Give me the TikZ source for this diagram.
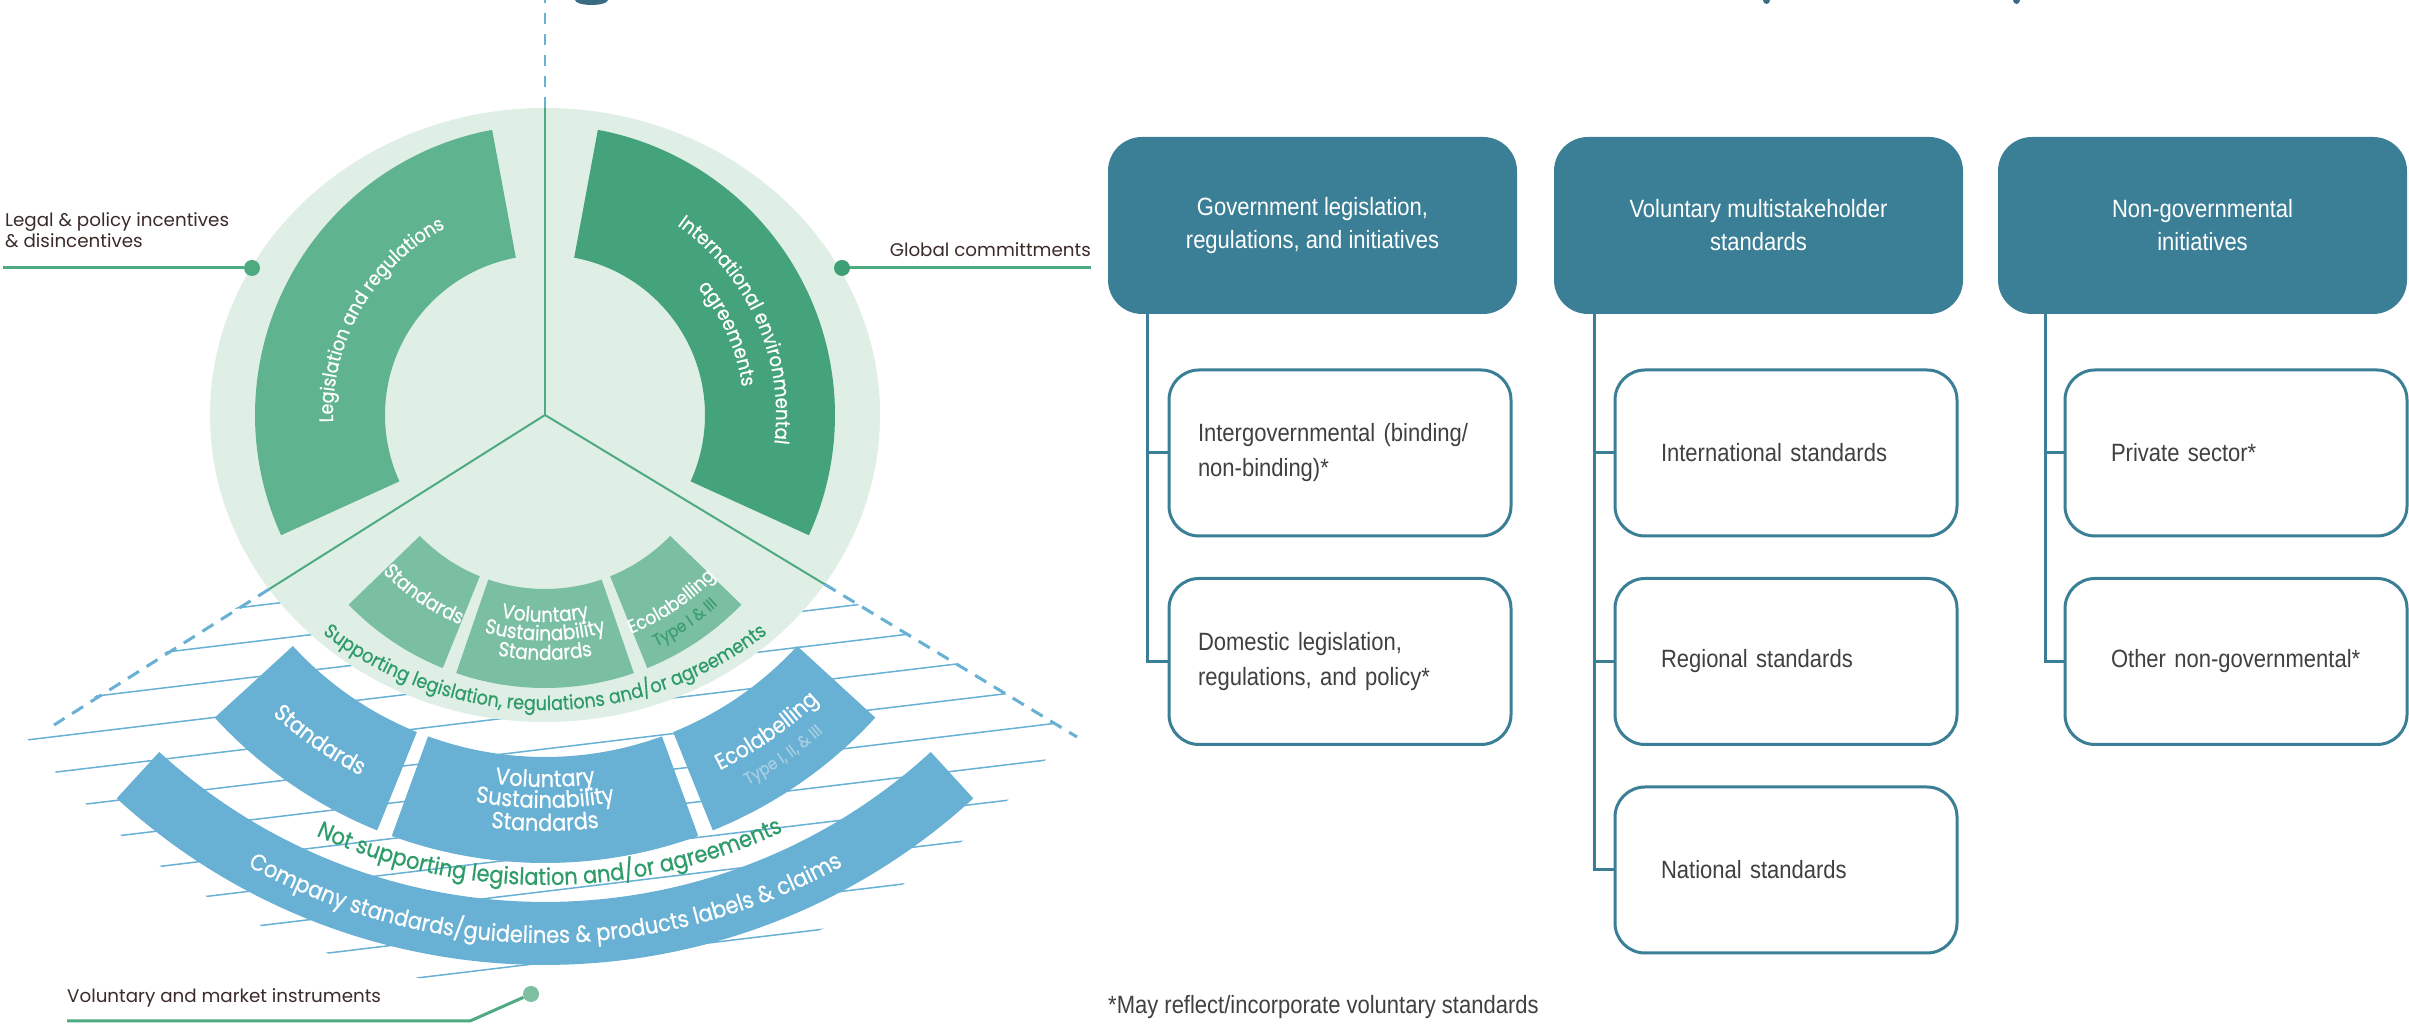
\documentclass[tikz,border=0pt]{standalone}
\usepackage{fontspec}
\usetikzlibrary{calc,decorations.text}
\newfontfamily\popf[FakeStretch=0.9,FakeBold=0.6]{Poppins}
\newfontfamily\popl{Poppins}
\newfontfamily\condf[FakeStretch=0.88]{Liberation Sans}
\definecolor{mint}{HTML}{E0EFE6}
\definecolor{gLeft}{HTML}{5FB48F}
\definecolor{gRight}{HTML}{44A37B}
\definecolor{gSmall}{HTML}{7BBFA2}
\definecolor{gLine}{HTML}{4EAA80}
\definecolor{gDotG}{HTML}{3E9F74}
\definecolor{gDotV}{HTML}{7CC0A0}
\definecolor{gText}{HTML}{2E9C69}
\definecolor{gType}{HTML}{3E9E72}
\definecolor{bl}{HTML}{68B0D4}
\definecolor{blType}{HTML}{A8CDE2}
\definecolor{tealB}{HTML}{3B7F97}
\definecolor{greytxt}{HTML}{404040}
\definecolor{brownL}{HTML}{3B2B29}
\definecolor{titlec}{HTML}{3A6B82}
\newcommand\pfont[1]{\popf\fontsize{#1}{#1}\selectfont}
% annular sector: colour, centre, inner r, outer r, start angle, end angle
\newcommand\annsec[6]{\fill[#1] ($(#2)+(#5:#4)$) arc[start angle=#5,end angle=#6,radius=#4] -- ($(#2)+(#6:#3)$) arc[start angle=#6,end angle=#5,radius=#3] -- cycle;}
% curved text: centre, radius, start, end, font, colour, text
\newcommand\arctxt[7]{\path[decorate,decoration={text along path,text align=center,text color=#6,text={|#5|#7}}] ($(#1)+(#3:#2)$) arc[start angle=#3,end angle=#4,radius=#2];}
\tikzset{
  hatch/.style={draw=bl,line width=1.5pt},
  yline/.style={draw=gLine,line width=2pt},
  dtop/.style={draw=bl,line width=2pt,dash pattern=on 11pt off 10pt},
  dlow/.style={draw=bl,line width=3pt,dash pattern=on 13pt off 9pt},
  lbl/.style={font=\popl\fontsize{18.3}{21}\selectfont,text=brownL,inner sep=0pt},
  lblline/.style={draw=gLine,line width=3pt},
  ldot/.style={circle,fill=gLine,minimum size=16pt,inner sep=0pt},
  hbox/.style={fill=tealB,rounded corners=34pt,minimum width=409pt,minimum height=177pt,inner sep=0pt,text=white,align=center,font=\condf\fontsize{25}{33}\selectfont},
  sbox/.style={draw=tealB,line width=3pt,fill=white,rounded corners=30pt,minimum width=342pt,minimum height=166pt,inner ysep=0pt,text=greytxt,align=left,font=\condf\fontsize{25}{35}\selectfont},
  sbA/.style={sbox,inner xsep=29pt,text width=284pt},
  sbB/.style={sbox,inner xsep=46pt,text width=250pt},
  conn/.style={draw=tealB,line width=3pt},
}
\begin{document}
\begin{tikzpicture}[x=1pt,y=1pt]
\useasboundingbox (0,0) rectangle (2409,1024);
\fill[white] (0,0) rectangle (2409,1024);
\begin{scope}
\clip (0,0) rectangle (2409,1024);
\coordinate (C) at (545,609);
\coordinate (B) at (545,693);
\coordinate (S) at (545,675);
\coordinate (LL) at (54,299);
\coordinate (LR) at (1077,287);
\coordinate (TT) at (545,1024);
\coordinate (ETOP) at (545,916);
\coordinate (ELL) at ($(C)!0.5618!(LL)$);
\coordinate (ELR) at ($(C)!0.5254!(LR)$);
% title slivers
\fill[titlec] (575,1024) arc[start angle=180,end angle=360,x radius=16.5,y radius=5] -- cycle;
\fill[titlec] (1763,1024) arc[start angle=180,end angle=360,x radius=3.5,y radius=4] -- cycle;
\fill[titlec] (2013,1024) arc[start angle=180,end angle=360,x radius=3.5,y radius=4] -- cycle;
% hatch
\begin{scope}
\clip (C) -- ($(C)+(-1000,-625)$) -- (-500,-800) -- (1600,-800) -- ($(C)+(1000,-605)$) -- cycle;
\clip (B) circle[radius=659];
\foreach \k in {-1,...,12}{
  \pgfmathsetmacro\yy{1024-571-35.6*\k}
  \draw[hatch] (0,{\yy-65.4}) -- (1100,{\yy+66.6});
}
\end{scope}
% blue shapes
\annsec{bl}{B}{571}{634}{227.5}{312.5}
\annsec{bl}{C}{342}{448}{222.5}{248}
\annsec{bl}{C}{342}{448}{250}{290}
\annsec{bl}{C}{342}{448}{292}{317.5}
% light disc
\fill[mint] (C) ellipse[x radius=335,y radius=307];
% green sectors
\annsec{gLeft}{C}{160}{290}{100.5}{204.5}
\annsec{gRight}{C}{160}{290}{-24.5}{79.5}
\annsec{gSmall}{C}{174}{273}{224}{248}
\annsec{gSmall}{C}{174}{273}{251}{289}
\annsec{gSmall}{C}{174}{273}{292}{316}
% dividing lines
\draw[yline] (C) -- (ETOP);
\draw[yline] (C) -- (ELL);
\draw[yline] (C) -- (ELR);
\draw[dtop] (ETOP) -- (TT);
\draw[dlow] (ELL) -- (LL);
\draw[dlow] (ELR) -- (LR);
% curved texts
\arctxt{C}{212}{210}{90}{\pfont{19.5}}{white}{Legislation and regulations}
\arctxt{C}{231}{84}{-36}{\pfont{20}}{white}{International environmental}
\arctxt{C}{199}{84}{-36}{\pfont{20}}{white}{agreements}
\arctxt{C}{226}{196}{276}{\pfont{20.2}}{white}{Standards}
\arctxt{C}{207}{230}{310}{\pfont{20.5}}{white}{Voluntary}
\arctxt{C}{225.5}{230}{310}{\pfont{20.5}}{white}{Sustainability}
\arctxt{C}{245}{230}{310}{\pfont{20.5}}{white}{Standards}
\arctxt{C}{235}{264}{344}{\pfont{19}}{white}{Ecolabelling}
\arctxt{C}{257}{264}{344}{\pfont{16.8}}{gType}{Type I {\&} III}
\arctxt{S}{361}{200}{340}{\pfont{19.6}}{gText}{Supporting legislation, regulations and/or agreements}
\arctxt{C}{405}{205.3}{265.3}{\pfont{23}}{white}{Standards}
\arctxt{C}{372}{240}{300}{\pfont{23.3}}{white}{Voluntary}
\arctxt{C}{393}{240}{300}{\pfont{23.3}}{white}{Sustainability}
\arctxt{C}{416}{240}{300}{\pfont{23.3}}{white}{Standards}
\arctxt{C}{396}{275}{335}{\pfont{22.4}}{white}{Ecolabelling}
\arctxt{C}{422}{275}{335}{\pfont{16.8}}{blType}{Type I, II, {\&} III}
\arctxt{B}{554}{230}{311}{\pfont{23.3}}{gText}{Not supporting legislation and/or agreements}
\arctxt{B}{612}{230}{310}{\pfont{23.3}}{white}{Company standards/guidelines {\&} products labels {\&} claims}
% labels
\node[lbl,anchor=north west,align=left] (legal) at (5,812) {Legal \& policy incentives\\\& disincentives};
\node[ldot] (dotL) at (252,756) {};
\coordinate (legalend) at (3,756);
\draw[lblline] (legalend) -- (dotL);
\node[lbl,anchor=base east] (glob) at (1091,767) {Global committments};
\node[ldot,fill=gDotG] (dotG) at (842,756) {};
\coordinate (globend) at (1091,756);
\draw[lblline] (dotG) -- (globend);
\node[lbl,anchor=base west] (volm) at (67,21) {Voluntary and market instruments};
\node[ldot,fill=gDotV] (dotV) at (531,30) {};
\coordinate (v0) at (67,3);
\coordinate (v1) at (470,3);
\draw[lblline] (v0) -- (v1) -- (dotV);
% right side
\node[hbox] (h1) at (1312.5,798.5) {Government legislation,\\regulations, and initiatives};
\node[hbox] (h2) at (1758.5,798.5) {Voluntary multistakeholder\\standards};
\node[hbox] (h3) at (2202.5,798.5) {Non-governmental\\initiatives};
\node[sbA] (s11) at (1340,571) {Intergovernmental (binding/\\non-binding)*};
\node[sbA] (s12) at (1340,362.5) {Domestic legislation,\\regulations, and policy*};
\node[sbB] (s21) at (1786,571) {International standards};
\node[sbB] (s22) at (1786,362.5) {Regional standards};
\node[sbB] (s23) at (1786,154) {National standards};
\node[sbB] (s31) at (2236,571) {Private sector*};
\node[sbB] (s32) at (2236,362.5) {Other non-governmental*};
\draw[conn] ([xshift=40pt]h1.south west) |- (s11.west);
\draw[conn] ([xshift=40pt]h1.south west) |- (s12.west);
\draw[conn] ([xshift=41pt]h2.south west) |- (s21.west);
\draw[conn] ([xshift=41pt]h2.south west) |- (s22.west);
\draw[conn] ([xshift=41pt]h2.south west) |- (s23.west);
\draw[conn] ([xshift=48pt]h3.south west) |- (s31.west);
\draw[conn] ([xshift=48pt]h3.south west) |- (s32.west);
\node[anchor=base west,inner sep=0pt,text=greytxt,font=\condf\fontsize{25}{28}\selectfont] (foot) at (1108,10) {*May reflect/incorporate voluntary standards};
\end{scope}
\end{tikzpicture}
\end{document}
